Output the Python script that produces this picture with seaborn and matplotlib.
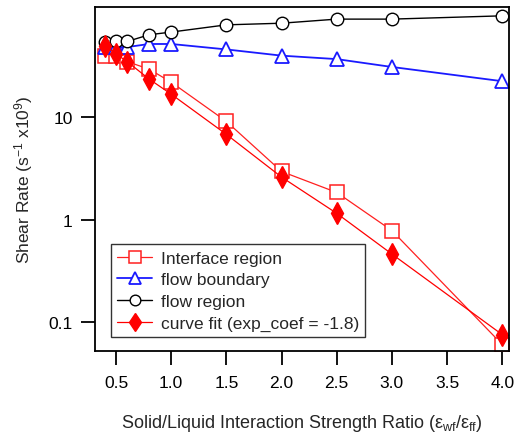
import numpy as np
import pandas as pd
import matplotlib
matplotlib.use('Agg')
import matplotlib.pyplot as plt
import seaborn as sns

sns.set_style('ticks')
plt.rcParams['font.family'] = ['Liberation Sans', 'DejaVu Sans']
plt.rcParams['mathtext.fontset'] = 'custom'
plt.rcParams['mathtext.rm'] = 'Liberation Sans'
plt.rcParams['mathtext.it'] = 'Liberation Sans'

ratio = [0.4, 0.5, 0.6, 0.8, 1.0, 1.5, 2.0, 2.5, 3.0, 4.0]
interface_region = [40, 40, 35, 29.5, 22, 9.1, 2.95, 1.84, 0.78, 0.06]
flow_boundary = [48.5, 48.5, 48.5, 52, 52, 46, 40, 37, 31, 22.5]
flow_region = [54, 55, 55, 64, 68, 80, 83, 91, 91, 98]
curve_fit = [50, 41.5, 35, 23.6, 16.8, 6.8, 2.6, 1.15, 0.46, 0.075]

df = pd.DataFrame({
    'ratio': ratio,
    'Interface region': interface_region,
    'flow boundary': flow_boundary,
    'flow region': flow_region,
    'curve fit (exp_coef = -1.8)': curve_fit,
})

fig = plt.figure(figsize=(5.14, 4.35), dpi=100)
ax = fig.add_axes([0.185, 0.191, 0.805, 0.791])

styles = {
    'Interface region': dict(color='#ff2020', marker='s', markersize=9.5, mfc='white', mec='#ff2020', mew=1.1, lw=0.9),
    'flow boundary': dict(color='#1a1aff', marker='^', markersize=9.5, mfc='white', mec='#1a1aff', mew=1.3, lw=1.3),
    'flow region': dict(color='black', marker='o', markersize=9, mfc='white', mec='black', mew=1.0, lw=1.0),
    'curve fit (exp_coef = -1.8)': dict(color='red', marker='d', markersize=11, mfc='red', mec='red', mew=1.0, lw=0.9),
}

for name, st in styles.items():
    sns.lineplot(data=df, x='ratio', y=name, ax=ax, label=name, **st)

ax.set_yscale('log')
ax.set_xlim(0.31, 4.06)
ax.set_ylim(0.052, 120)
ax.set_xticks([0.5, 1.0, 1.5, 2.0, 2.5, 3.0, 3.5, 4.0])
ax.set_xticklabels(['0.5', '1.0', '1.5', '2.0', '2.5', '3.0', '3.5', '4.0'])
ax.set_yticks([0.1, 1, 10])
ax.set_yticklabels(['0.1', '1', '10'])
ax.yaxis.set_minor_locator(matplotlib.ticker.NullLocator())
ax.tick_params(axis='both', direction='out', length=10, width=1.3, labelsize=12.5, pad=6, colors='black')
ax.tick_params(axis='x', pad=7)

for s in ax.spines.values():
    s.set_color('black')
    s.set_linewidth(1.3)

ax.set_xlabel(r'Solid/Liquid Interaction Strength Ratio ($\epsilon_{wf}/\epsilon_{ff}$)', fontsize=13, labelpad=16)
ax.set_ylabel(r'Shear Rate (s$^{-1}$ x10$^{9}$)', fontsize=12.5, labelpad=10)

leg = ax.legend(loc='lower left', bbox_to_anchor=(0.018, 0.015), fontsize=12.5, frameon=True,
                fancybox=False, edgecolor='black', handlelength=2.0, borderpad=0.35,
                labelspacing=0.38, handletextpad=0.5, markerscale=0.85)
leg.get_frame().set_linewidth(1.0)

fig.savefig('out.png', dpi=100)
